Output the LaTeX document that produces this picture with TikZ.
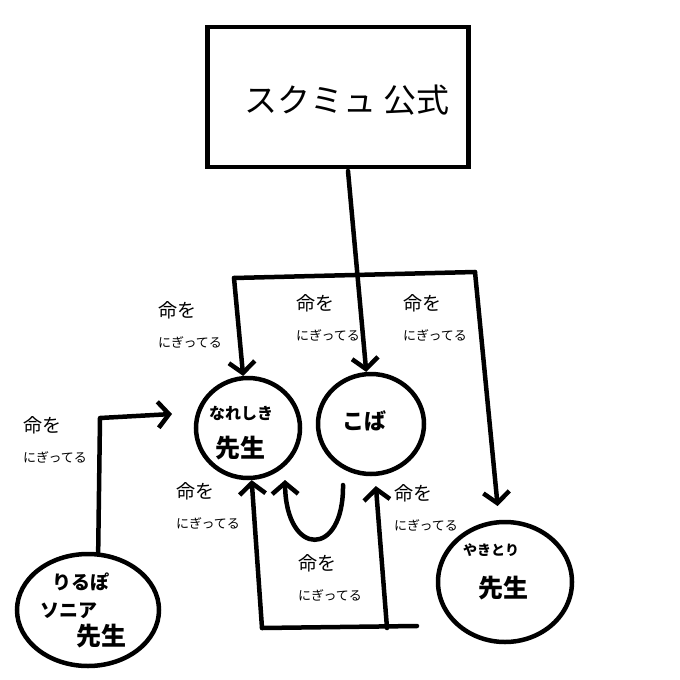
\documentclass[tikz,border=0pt]{standalone}
\usepackage{fontspec}
\setmainfont{Noto Sans CJK JP}
\usetikzlibrary{arrows.meta,shapes.geometric}
\begin{document}
\begin{tikzpicture}[x=1pt,y=-1pt,
  stroke/.style={line width=4.5pt,line cap=round,line join=round},
  arr/.style={stroke,-{Straight Barb[length=11pt,width=26pt,line width=4.5pt]}},
  blob/.style={ellipse,draw,line width=4.5pt,inner sep=0pt},
  note/.style={align=left,inner sep=0pt,font=\fontsize{13}{30}\selectfont},
  who/.style={inner sep=0pt,font=\bfseries\fontsize{16}{18}\selectfont},
  sen/.style={inner sep=0pt,font=\bfseries\fontsize{25}{27}\selectfont}]
\useasboundingbox (0,0) rectangle (680,680);
\fill[white] (0,0) rectangle (680,680);

% top box
\node[draw,line width=4.5pt,minimum width=261pt,minimum height=140pt,inner sep=0pt] (top) at (338,97) {};
\node[inner sep=0pt,font=\fontsize{33}{35}\selectfont] (toptxt) at (347,100) {スクミュ 公式};

% circles
\node[blob,minimum width=104pt,minimum height=100pt] (nare) at (248,428) {};
\node[blob,minimum width=106pt,minimum height=100pt] (koba) at (371,424) {};
\node[blob,minimum width=134pt,minimum height=120pt] (yaki) at (505,582) {};
\node[blob,minimum width=142pt,minimum height=112pt] (riru) at (88,610) {};

\node[who] (naret) at (241,413) {なれしき};
\node[sen] (nares) at (240,448) {先生};
\node[who,font=\bfseries\fontsize{22}{24}\selectfont] (kobat) at (364,421) {こば};
\node[who,font=\bfseries\fontsize{14}{16}\selectfont] (yakit) at (491,550) {やきとり};
\node[sen] (yakis) at (503,588) {先生};
\node[who,font=\bfseries\fontsize{19}{21}\selectfont] (riru1) at (81,582) {りるぽ};
\node[who,font=\bfseries\fontsize{19}{21}\selectfont] (riru2) at (69,611) {ソニア};
\node[sen] (riru3) at (101,636) {先生};

% junction bar
\coordinate (lb) at (234,278);
\coordinate (rb) at (475,272);
\coordinate (tb) at (348,171);
\draw[stroke] (lb) -- (rb);
\draw[arr] (tb) -- (koba);
\draw[arr] (lb) -- (nare);
\draw[arr,shorten >=14pt] (rb) -- (yaki);

% left elbow
\coordinate (rc) at (100,418);
\coordinate (rt) at (172,414);
\draw[arr] (riru.80) -- (rc) -- (rt);

% bottom
\coordinate (bl) at (262,628);
\coordinate (br) at (387,628);
\coordinate (be) at (417,626);
\draw[stroke] (bl) -- (be);
\draw[arr] (bl) -- (nare);
\draw[arr,shorten >=10pt] (br) -- (koba);
\coordinate (us) at (343,485);
\coordinate (ue) at (285,480);
\draw[arr] (us) .. controls (344,558) and (286,558) .. (ue);

% labels
\node[note] (l1) at (190,325) {{\fontsize{19}{22}\selectfont 命を}\\にぎってる};
\node[note] (l2) at (328,318) {{\fontsize{19}{22}\selectfont 命を}\\にぎってる};
\node[note] (l3) at (435,318) {{\fontsize{19}{22}\selectfont 命を}\\にぎってる};
\node[note] (l4) at (55,440) {{\fontsize{19}{22}\selectfont 命を}\\にぎってる};
\node[note] (l5) at (208,506) {{\fontsize{19}{22}\selectfont 命を}\\にぎってる};
\node[note] (l6) at (426,508) {{\fontsize{19}{22}\selectfont 命を}\\にぎってる};
\node[note] (l7) at (330,578) {{\fontsize{19}{22}\selectfont 命を}\\にぎってる};
\end{tikzpicture}
\end{document}
